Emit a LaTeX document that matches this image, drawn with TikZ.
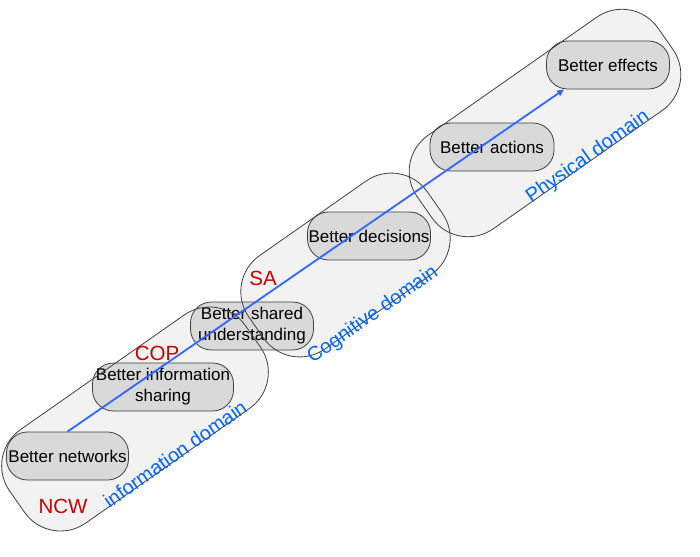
\documentclass[tikz,border=0pt]{standalone}
\usepackage{fontspec}
\setmainfont{Liberation Sans}
\usetikzlibrary{arrows.meta}
\definecolor{domfill}{HTML}{F2F2F2}
\definecolor{nodefill}{HTML}{D9D9D9}
\definecolor{edgegray}{HTML}{404040}
\definecolor{arrowblue}{HTML}{3366FF}
\definecolor{labelblue}{HTML}{0066FF}
\definecolor{labelred}{HTML}{CC0000}
\begin{document}
\begin{tikzpicture}[x=1pt,y=-1pt,
  domainbox/.style={rounded corners=44pt, rotate=35, minimum height=114pt, inner sep=0pt},
  domainfill/.style={domainbox, fill=domfill},
  domainline/.style={domainbox, draw=edgegray, line width=0.8pt},
  stepbox/.style={draw=edgegray, line width=0.8pt, fill=nodefill, rounded corners=21pt,
    minimum height=48pt, inner sep=1pt, align=center, font=\fontsize{17}{21}\selectfont},
  redlabel/.style={text=labelred, font=\fontsize{20.5}{24}\selectfont, inner sep=0pt},
  bluelabel/.style={text=labelblue, font=\fontsize{20}{24}\selectfont, rotate=35.3, inner sep=0pt},
  arrowline/.style={draw=arrowblue, line width=1.8pt, -{Triangle[length=7pt,width=6pt]}}
]
\useasboundingbox (0,0) rectangle (700,556);
% domain fills
\node[domainfill, minimum width=288pt] (infoF) at (135,419) {};
\node[domainfill, minimum width=218pt] (cogF) at (345.5,265) {};
\node[domainfill, minimum width=294pt] (phyF) at (545,123) {};
% process nodes
\node[stepbox, minimum width=122pt] (nets) at (67.5,456) {Better networks};
\node[stepbox, minimum width=141pt] (info) at (163,387) {Better information\\sharing};
\node[stepbox, minimum width=123pt] (shared) at (252,326) {Better shared\\understanding};
\node[stepbox, minimum width=123pt] (dec) at (369,236) {Better decisions};
\node[stepbox, minimum width=124pt] (act) at (492,147) {Better actions};
\node[stepbox, minimum width=123pt] (eff) at (608,65) {Better effects};
% domain outlines
\node[domainline, minimum width=288pt] (infoL) at (135,419) {};
\node[domainline, minimum width=218pt] (cogL) at (345.5,265) {};
\node[domainline, minimum width=294pt] (phyL) at (545,123) {};
% labels
\node[redlabel] (ncw) at (63,506) {NCW};
\node[redlabel] (cop) at (157,353) {COP};
\node[redlabel] (sa) at (263,278) {SA};
\node[bluelabel] (infoD) at (175,454) {information domain};
\node[bluelabel] (cogD) at (373,315) {Cognitive domain};
\node[bluelabel] (phyD) at (588,157) {Physical domain};
% arrow
\coordinate (arrEnd) at ([xshift=18pt]eff.south west);
\draw[arrowline] (nets.north) -- (arrEnd);
\end{tikzpicture}
\end{document}
